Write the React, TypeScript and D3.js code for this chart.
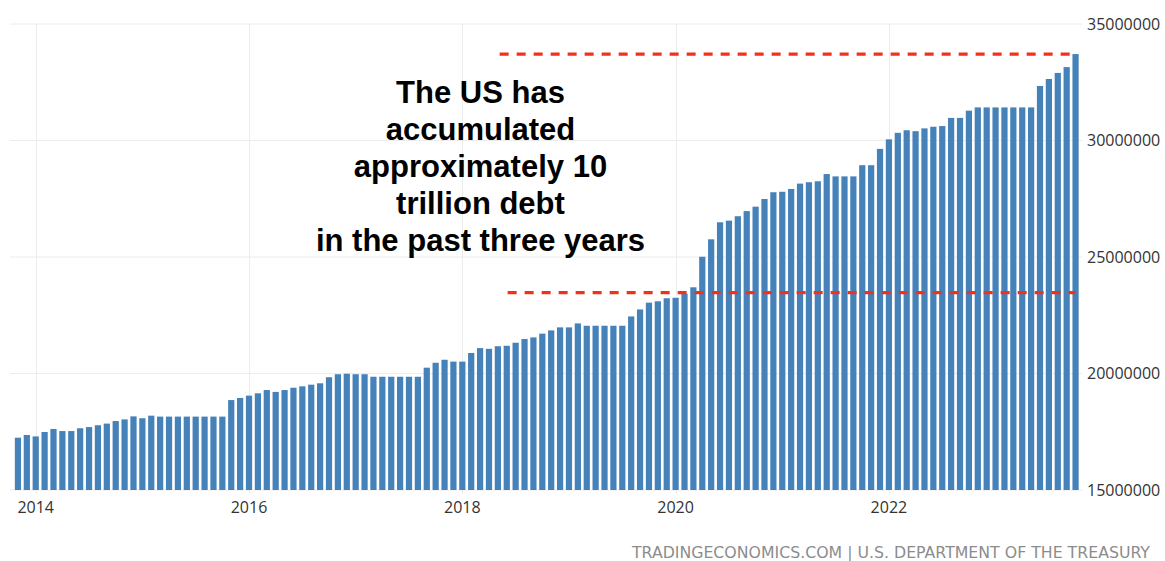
import React from "react";
import * as d3 from "d3";

// US government debt, monthly, Nov 2013 – Oct 2023 (USD millions)
const debt2013 = [17245000, 17360000];
const debt2014 = [17300000, 17490000, 17620000, 17530000, 17530000, 17650000, 17700000, 17780000, 17850000, 17960000, 18030000, 18160000];
const debt2015 = [18080000, 18190000, 18150000, 18150000, 18150000, 18150000, 18150000, 18150000, 18150000, 18150000, 18860000, 18950000];
const debt2016 = [19050000, 19150000, 19290000, 19210000, 19290000, 19390000, 19450000, 19520000, 19580000, 19840000, 19970000, 19990000];
const debt2017 = [19970000, 19970000, 19860000, 19860000, 19860000, 19860000, 19860000, 19860000, 20250000, 20460000, 20590000, 20510000];
const debt2018 = [20510000, 20880000, 21090000, 21060000, 21170000, 21190000, 21320000, 21480000, 21550000, 21710000, 21850000, 21980000];
const debt2019 = [21980000, 22150000, 22050000, 22050000, 22050000, 22050000, 22050000, 22450000, 22750000, 23040000, 23100000, 23230000];
const debt2020 = [23250000, 23420000, 23700000, 25010000, 25760000, 26490000, 26560000, 26750000, 26970000, 27160000, 27490000, 27780000];
const debt2021 = [27800000, 27920000, 28150000, 28210000, 28250000, 28560000, 28460000, 28460000, 28460000, 28940000, 28940000, 29640000];
const debt2022 = [30050000, 30330000, 30440000, 30400000, 30520000, 30590000, 30620000, 30970000, 30970000, 31280000, 31420000, 31420000];
const debt2023 = [31420000, 31420000, 31420000, 31420000, 31420000, 32340000, 32640000, 32900000, 33150000, 33710000];

const values: number[] = [
  ...debt2013, ...debt2014, ...debt2015, ...debt2016, ...debt2017, ...debt2018,
  ...debt2019, ...debt2020, ...debt2021, ...debt2022, ...debt2023,
];
const months: Date[] = values.map((_, i) => new Date(2013, 10 + i, 1));

const yTicks = [15000000, 20000000, 25000000, 30000000, 35000000];
const xTickYears = [2014, 2016, 2018, 2020, 2022];

// dashed reference levels: value and the (fractional) month index where each starts
const refLevels = [33710000, 23470000];
const refStartIdx = [54.2, 55.1];

const noteLines = [
  "The US has",
  "accumulated",
  "approximately 10",
  "trillion debt",
  "in the past three years",
];
const sourceText = "TRADINGECONOMICS.COM | U.S. DEPARTMENT OF THE TREASURY";

const W = 1165;
const H = 561;

export default function App() {
  const x = d3
    .scaleBand<number>()
    .domain(values.map((_, i) => i))
    .range([13.5, 1080])
    .paddingInner(0.3)
    .paddingOuter(0.15);
  const center = (i: number) => (x(0) as number) + x.bandwidth() / 2 + i * x.step();
  const y = d3.scaleLinear().domain([15000000, 35000000]).range([490, 24]);

  const yearIdx = (yr: number) =>
    months.findIndex((m) => m.getFullYear() === yr && m.getMonth() === 0);

  const lastIdx = values.length - 1;

  return (
    <div style={{ position: "absolute", left: 0, top: 0 }}>
      <svg width={W} height={H} style={{ display: "block", background: "#fff" }}>
        {/* horizontal grid */}
        {yTicks.map((t) => (
          <line key={"h" + t} x1={10} x2={1082} y1={y(t)} y2={y(t)} stroke="#ececec" strokeWidth={1} />
        ))}
        {/* vertical grid at even years */}
        {xTickYears.map((yr) => {
          const cx = Math.round(center(yearIdx(yr))) + 0.5;
          return (
            <line key={"v" + yr} x1={cx} x2={cx} y1={y(35000000)} y2={494} stroke="#ececec" strokeWidth={1} />
          );
        })}
        {/* bars */}
        {values.map((v, i) => (
          <rect
            key={i}
            x={x(i) as number}
            width={x.bandwidth()}
            y={y(v)}
            height={y(15000000) - y(v)}
            fill="#4682ba"
          />
        ))}
        {/* dashed reference lines */}
        {refLevels.map((lv, k) => (
          <line
            key={"r" + k}
            x1={center(refStartIdx[k])}
            x2={center(lastIdx)}
            y1={y(lv)}
            y2={y(lv)}
            stroke="#f0321c"
            strokeWidth={3.2}
            strokeDasharray="9,8"
          />
        ))}
        {/* y axis labels */}
        {yTicks.map((t) => (
          <text
            key={"yl" + t}
            x={1087}
            y={y(t) + 5.5}
            fontFamily="'Open Sans', sans-serif"
            fontSize={16}
            fill="#333"
          >
            {d3.format("d")(t)}
          </text>
        ))}
        {/* x axis labels */}
        {xTickYears.map((yr) => (
          <text
            key={"xl" + yr}
            x={center(yearIdx(yr))}
            y={513}
            textAnchor="middle"
            fontFamily="'Open Sans', sans-serif"
            fontSize={16}
            fill="#333"
          >
            {yr}
          </text>
        ))}
        {/* annotation */}
        {noteLines.map((ln, k) => (
          <text
            key={"n" + k}
            x={480.5}
            y={103 + k * 37}
            textAnchor="middle"
            fontFamily="'Liberation Sans', Arial, sans-serif"
            fontWeight="bold"
            fontSize={31}
            fill="#000"
          >
            {ln}
          </text>
        ))}
        {/* source */}
        <text
          x={1150}
          y={558}
          textAnchor="end"
          fontFamily="'DejaVu Sans', sans-serif"
          fontSize={15.75}
          fill="#8c8c8c"
        >
          {sourceText}
        </text>
      </svg>
    </div>
  );
}
